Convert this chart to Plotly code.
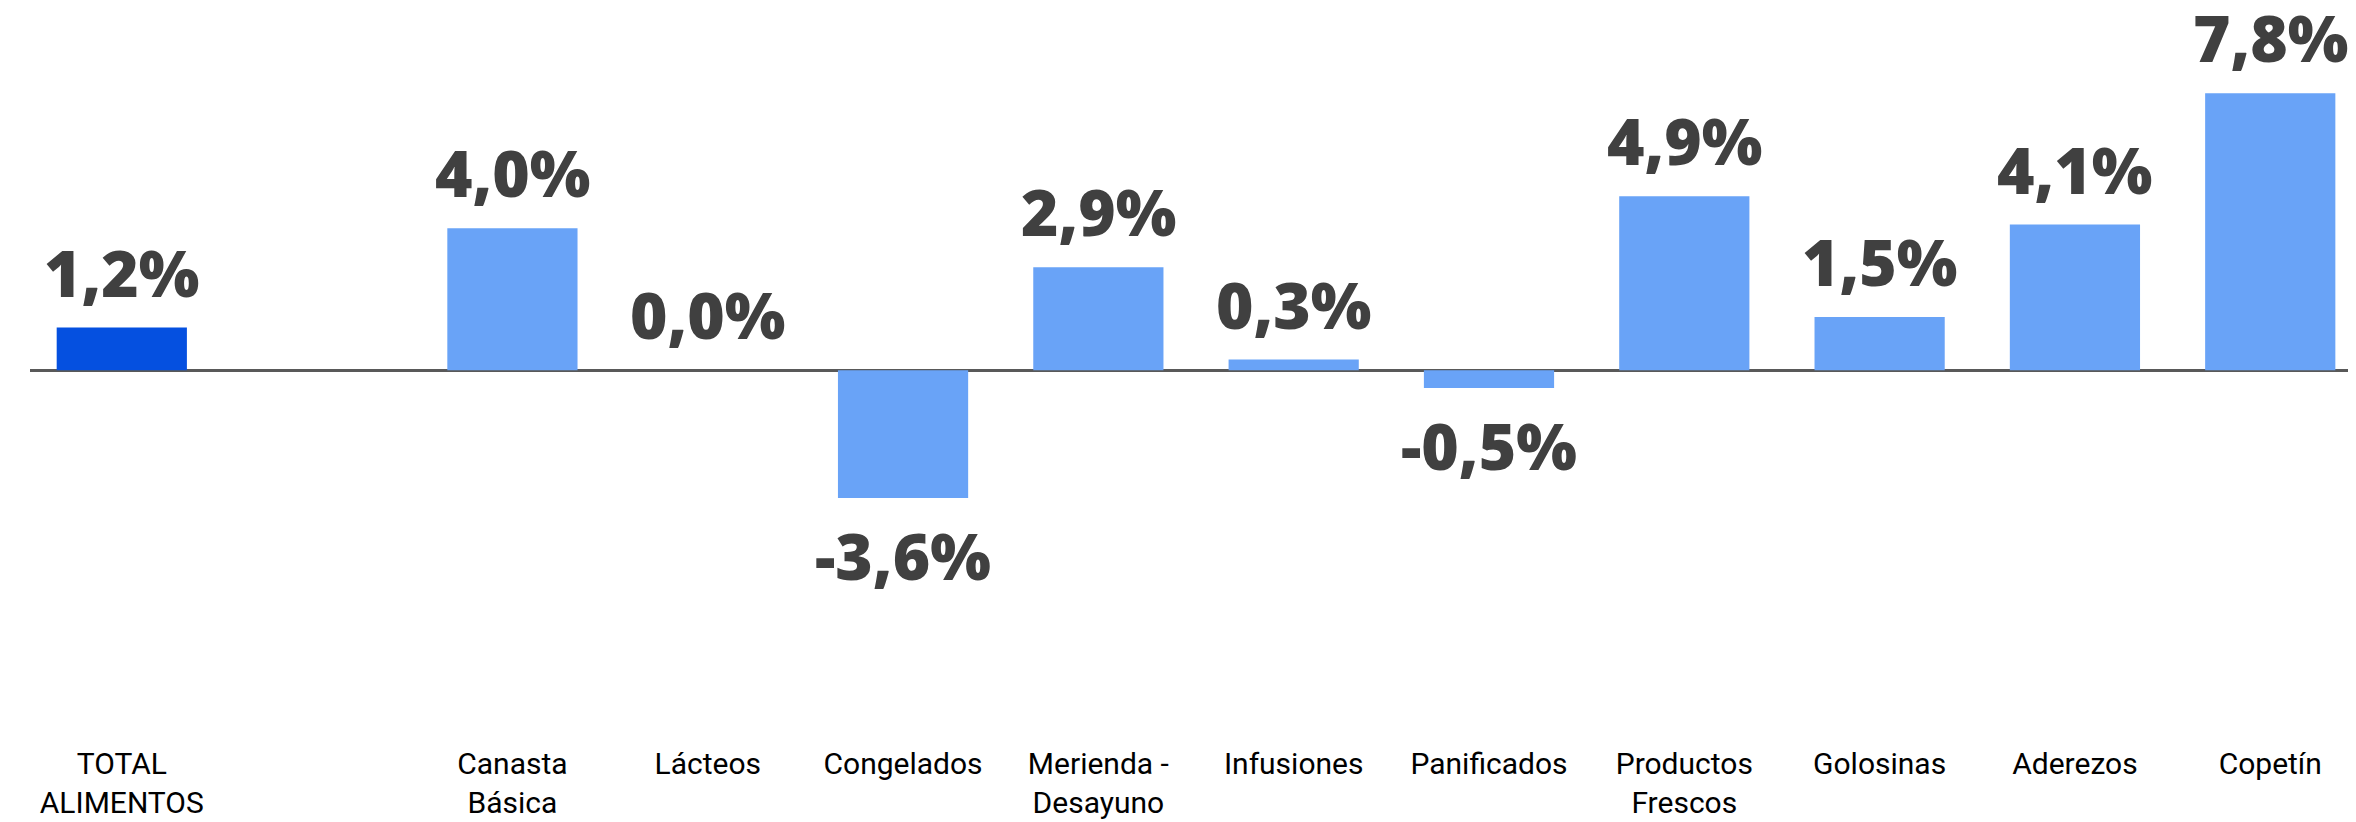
import plotly.graph_objects as go

categories = ["TOTAL<br>ALIMENTOS", " ", "Canasta<br>Básica", "Lácteos", "Congelados",
              "Merienda -<br>Desayuno", "Infusiones", "Panificados", "Productos<br>Frescos",
              "Golosinas", "Aderezos", "Copetín"]
values = [1.2, None, 4.0, 0.0, -3.6, 2.9, 0.3, -0.5, 4.9, 1.5, 4.1, 7.8]
labels = ["1,2%", "", "4,0%", "0,0%", "-3,6%", "2,9%", "0,3%", "-0,5%", "4,9%", "1,5%", "4,1%", "7,8%"]

DARK = "#0550E0"
LIGHT = "#69A3F7"
colors = [DARK] + [LIGHT] * (len(categories) - 1)

fig = go.Figure()
fig.add_trace(go.Bar(x=categories, y=values, marker_color=colors, marker_line_width=0,
                     hoverinfo="skip"))

for c, v, t in zip(categories, values, labels):
    if v is None:
        continue
    neg = v < 0
    fig.add_annotation(x=c, y=v, text=t, showarrow=False,
                       yanchor="top" if neg else "bottom",
                       yshift=-12 if neg else 10,
                       font=dict(family="Open Sans", size=64, color="#404040", weight=800))

fig.update_layout(
    width=2356, height=822,
    margin=dict(l=22, r=0, t=0, b=87),
    plot_bgcolor="white", paper_bgcolor="white",
    bargap=1/3, showlegend=False,
)
fig.update_xaxes(type="category", range=[-0.47, 11.48], showgrid=False, showline=False, ticks="",
                 tickfont=dict(family="Roboto", size=30, color="#000000"),
                 fixedrange=True)
fig.update_yaxes(range=[-10.5, 10.2], showgrid=False, showticklabels=False,
                 zeroline=True, zerolinecolor="#595959", zerolinewidth=3, fixedrange=True)

fig.write_html("out.html")
